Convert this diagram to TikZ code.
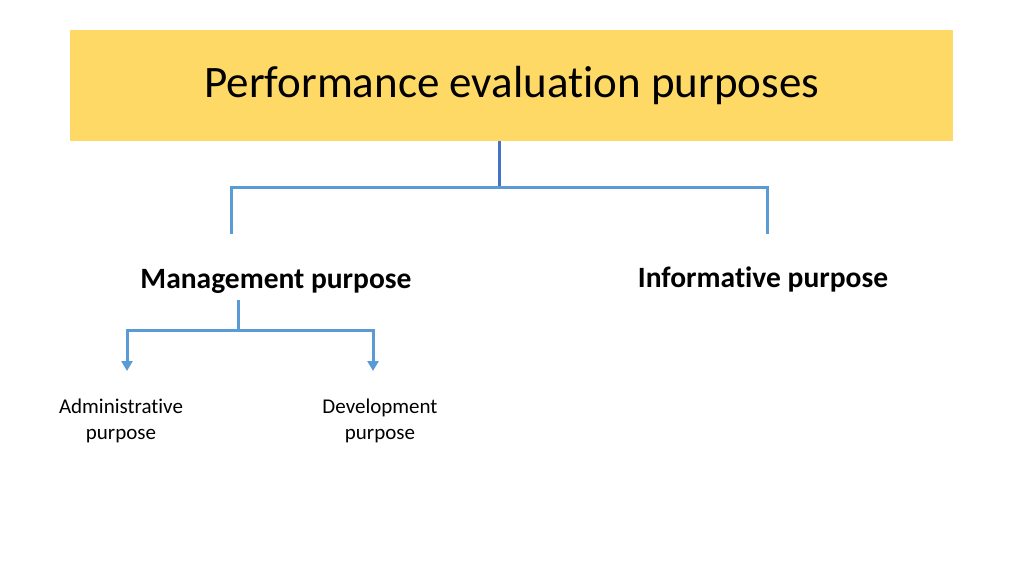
\documentclass[tikz,border=0pt]{standalone}
\usepackage{fontspec}
\setmainfont[Ligatures=NoCommon]{Carlito}
\usetikzlibrary{arrows.meta}
\definecolor{gold}{HTML}{FFD966}
\definecolor{lblue}{HTML}{5B9BD5}
\definecolor{dblue}{HTML}{4472C4}
\tikzset{
  conn/.style={draw=lblue, line width=3pt},
  arr/.style={conn, -{Triangle[width=11pt,length=10pt]}},
  head/.style={font=\bfseries\fontsize{29.5}{34}\selectfont, inner sep=0pt},
  leaf/.style={font=\fontsize{21}{26}\selectfont, align=center, inner sep=0pt},
}
\begin{document}
\begin{tikzpicture}[x=1pt,y=-1pt]
\useasboundingbox (0,0) rectangle (1024,576);
\fill[white] (0,0) rectangle (1024,576);
\node[fill=gold, minimum width=883pt, minimum height=111pt, inner sep=0pt, anchor=north west,
      font=\fontsize{45}{50}\selectfont] (top) at (70,30) {Performance evaluation purposes};
\node[head] (mgmt) at (276,281) {Management purpose};
\node[head] (info) at (763,279) {Informative purpose};
\node[leaf] (adm) at (121,421) {Administrative\\purpose};
\node[leaf] (dev) at (380,421) {Development\\purpose};
\coordinate (tj) at (499,187);
\coordinate (tl) at (231,234);
\coordinate (tr) at (767,234);
\draw[draw=dblue, line width=3pt] (top.south -| tj) -- (tj);
\draw[conn] (tl) |- (tj) -| (tr);
\coordinate (mj) at (238,330);
\coordinate (ml) at (127,371);
\coordinate (mr) at (373,371);
\draw[conn] (mgmt.south -| mj) ++(0,7) -- (mj);
\draw[arr] (mj) -| (ml);
\draw[arr] (mj) -| (mr);
\end{tikzpicture}
\end{document}
